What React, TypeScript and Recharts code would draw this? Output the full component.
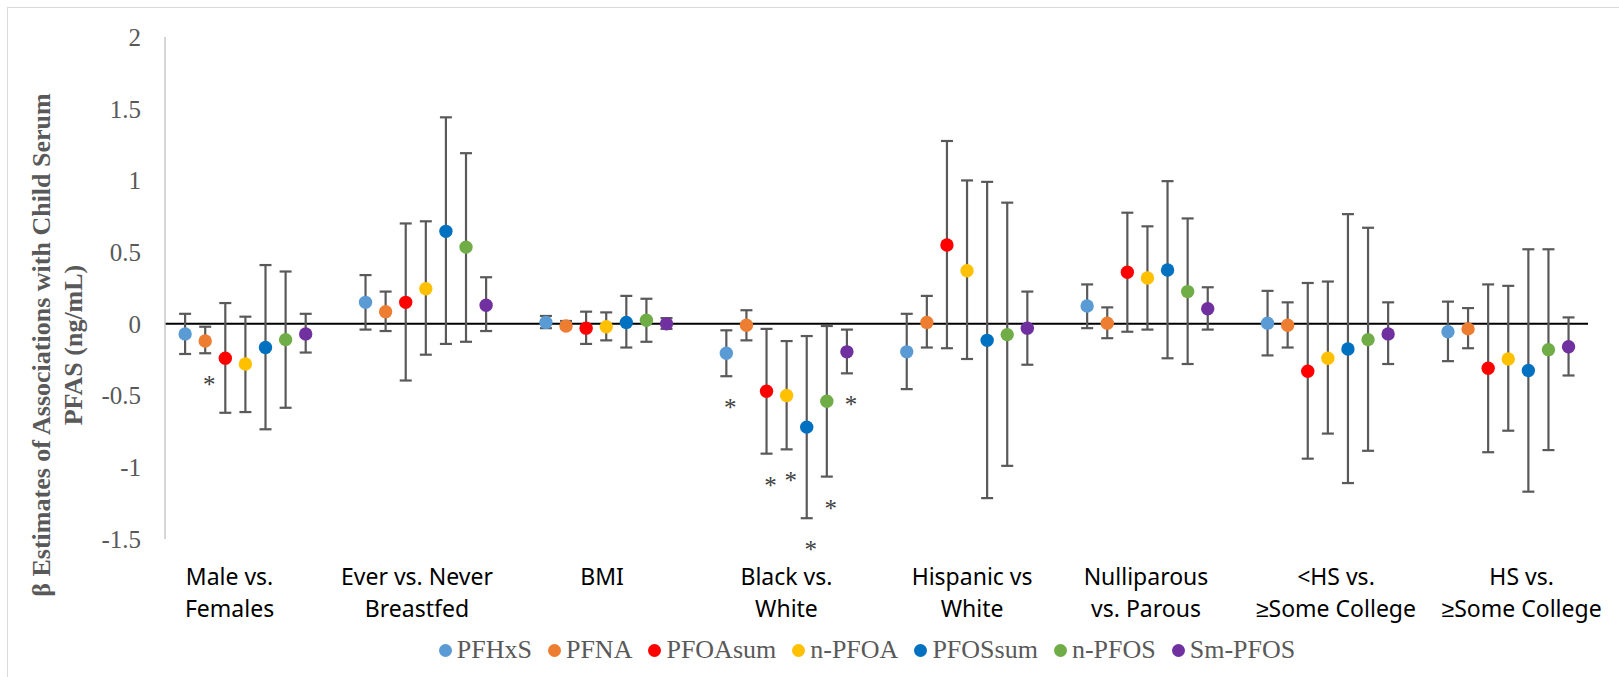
import { ScatterChart, Scatter, XAxis, YAxis, ErrorBar, ReferenceLine, Legend } from 'recharts'

// x-axis categories (one or two text lines each)
const categories: string[][] = [
  ['Male vs.', 'Females'],
  ['Ever vs. Never', 'Breastfed'],
  ['BMI'],
  ['Black vs.', 'White'],
  ['Hispanic vs', 'White'],
  ['Nulliparous', 'vs. Parous'],
  ['<HS vs.', '≥Some College'],
  ['HS vs.', '≥Some College'],
]

// where each category label sits on the x scale (categories are at 1..8)
const labelX = [0.912, 1.951, 2.977, 3.999, 5.028, 5.992, 7.045, 8.074]

const seriesNames = ['PFHxS', 'PFNA', 'PFOAsum', 'n-PFOA', 'PFOSsum', 'n-PFOS', 'Sm-PFOS']
const seriesColors = ['#5B9BD5', '#ED7D31', '#FF0000', '#FFC000', '#0070C0', '#70AD47', '#7030A0']

// rows = series, columns = categories
const estimates = [
  [-0.07, 0.15, 0.01, -0.205, -0.195, 0.125, 0.005, -0.055],
  [-0.12, 0.085, -0.015, -0.01, 0.01, 0.005, -0.01, -0.035],
  [-0.24, 0.15, -0.03, -0.47, 0.55, 0.36, -0.33, -0.31],
  [-0.28, 0.245, -0.02, -0.5, 0.37, 0.32, -0.24, -0.245],
  [-0.165, 0.645, 0.01, -0.72, -0.115, 0.375, -0.175, -0.325],
  [-0.11, 0.535, 0.025, -0.54, -0.075, 0.225, -0.11, -0.18],
  [-0.07, 0.13, 0, -0.195, -0.03, 0.105, -0.07, -0.16],
]

const lowerCI = [
  [-0.21, -0.04, -0.03, -0.365, -0.455, -0.03, -0.22, -0.26],
  [-0.205, -0.05, -0.03, -0.115, -0.165, -0.1, -0.165, -0.17],
  [-0.62, -0.395, -0.14, -0.905, -0.17, -0.055, -0.94, -0.895],
  [-0.615, -0.215, -0.115, -0.875, -0.245, -0.04, -0.765, -0.745],
  [-0.735, -0.14, -0.165, -1.355, -1.215, -0.24, -1.11, -1.17],
  [-0.585, -0.125, -0.125, -1.065, -0.99, -0.28, -0.885, -0.88],
  [-0.2, -0.05, -0.035, -0.345, -0.285, -0.04, -0.28, -0.36],
]

const upperCI = [
  [0.07, 0.34, 0.055, -0.045, 0.07, 0.275, 0.23, 0.155],
  [-0.02, 0.225, 0.02, 0.095, 0.195, 0.115, 0.15, 0.11],
  [0.145, 0.7, 0.085, -0.035, 1.275, 0.775, 0.285, 0.275],
  [0.05, 0.715, 0.08, -0.12, 1.0, 0.68, 0.295, 0.265],
  [0.41, 1.44, 0.195, -0.085, 0.99, 0.995, 0.765, 0.52],
  [0.365, 1.19, 0.175, -0.015, 0.845, 0.735, 0.67, 0.52],
  [0.07, 0.325, 0.04, -0.04, 0.225, 0.255, 0.15, 0.045],
]

// [series, category] pairs marked with *
const significant: [number, number][] = [
  [1, 0],
  [0, 3], [2, 3], [3, 3], [4, 3], [5, 3], [6, 3],
]

const yTicks = [-1.5, -1, -0.5, 0, 0.5, 1, 1.5, 2]

const SERIES_STEP = 0.1114
const pointX = (s: number, c: number) => c + 1 + (s - 3) * SERIES_STEP

const seriesData = seriesNames.map((_, s) =>
  categories.map((_, c) => ({
    x: pointX(s, c),
    y: estimates[s][c],
    err: [estimates[s][c] - lowerCI[s][c], upperCI[s][c] - estimates[s][c]],
  }))
)

const sigData = significant.map(([s, c]) => ({ x: pointX(s, c), y: lowerCI[s][c] }))

const SERIF = '"Liberation Serif", "Times New Roman", serif'

function CategoryTick(props: any) {
  const { x, y, payload } = props
  const i = labelX.findIndex((v) => Math.abs(v - payload.value) < 1e-6)
  const lines = categories[i] ?? []
  return (
    <text x={x} y={y} textAnchor="middle" fontFamily='"Noto Sans", sans-serif' fontSize={23} fill="#000">
      {lines.map((l, k) => (
        <tspan key={k} x={x} dy={k === 0 ? 46 : 32.3}>
          {l}
        </tspan>
      ))}
    </text>
  )
}

function YTitle() {
  return (
    <g fontFamily={SERIF} fontWeight="bold" fontSize={26} fill="#595959" textAnchor="middle">
      <text x={41.6} y={337} transform="rotate(-90 41.6 337)">
        β Estimates of Associations with Child Serum
      </text>
      <text x={73.6} y={337} transform="rotate(-90 73.6 337)">
        PFAS (ng/mL)
      </text>
    </g>
  )
}

function LegendBox() {
  return (
    <div
      style={{
        display: 'flex',
        justifyContent: 'center',
        alignItems: 'center',
        height: 30,
        paddingLeft: 107,
        fontFamily: SERIF,
        fontSize: 26,
        color: '#595959',
      }}
    >
      {seriesNames.map((n, i) => (
        <span key={n} style={{ display: 'flex', alignItems: 'center', marginRight: i < seriesNames.length - 1 ? 16 : 0 }}>
          <span
            style={{
              display: 'inline-block',
              width: 13,
              height: 13,
              borderRadius: '50%',
              background: seriesColors[i],
              marginRight: 5,
            }}
          />
          {n}
        </span>
      ))}
    </div>
  )
}

export default function App() {
  return (
    <>
      <style>{'body{margin:0;overflow:hidden;background:#fff}'}</style>
      <div
        style={{
          position: 'absolute',
          left: 7,
          top: 7,
          borderTop: '1px solid #d9d9d9',
          borderLeft: '1px solid #d9d9d9',
        }}
      >
        <ScatterChart width={1611} height={669} margin={{ top: 29, right: 31, left: 0, bottom: 12 }}>
          <XAxis
            type="number"
            dataKey="x"
            domain={[0.5543, 8.442]}
            ticks={labelX}
            interval={0}
            axisLine={false}
            tickLine={false}
            tickSize={0}
            tickMargin={0}
            height={96}
            tick={<CategoryTick />}
          />
          <YAxis
            type="number"
            dataKey="y"
            domain={[-1.5, 2]}
            ticks={yTicks}
            interval={0}
            width={157}
            axisLine={{ stroke: '#c8c8c8', strokeWidth: 1.5 }}
            tickLine={false}
            tickSize={0}
            tickMargin={24}
            tick={{ fill: '#595959', fontSize: 25, fontFamily: SERIF }}
            label={<YTitle />}
          />
          <ReferenceLine y={0} stroke="#000" strokeWidth={2} />
          <Legend verticalAlign="bottom" align="center" wrapperStyle={{ left: 0, width: 1611 }} content={() => <LegendBox />} />
          {seriesNames.map((name, s) => (
            <Scatter
              key={name}
              name={name}
              data={seriesData[s]}
              fill={seriesColors[s]}
              isAnimationActive={false}
              shape={(p: any) => <circle cx={p.cx} cy={p.cy} r={6.7} fill={seriesColors[s]} />}
            >
              <ErrorBar dataKey="err" direction="y" width={6} strokeWidth={2.2} stroke="#595959" isAnimationActive={false} />
            </Scatter>
          ))}
          <Scatter
            name="sig"
            data={sigData}
            legendType="none"
            isAnimationActive={false}
            shape={(p: any) => (
              <text x={p.cx + 4} y={p.cy + 40} textAnchor="middle" fontFamily={SERIF} fontSize={25} fill="#404040">
                *
              </text>
            )}
          />
        </ScatterChart>
      </div>
    </>
  )
}
